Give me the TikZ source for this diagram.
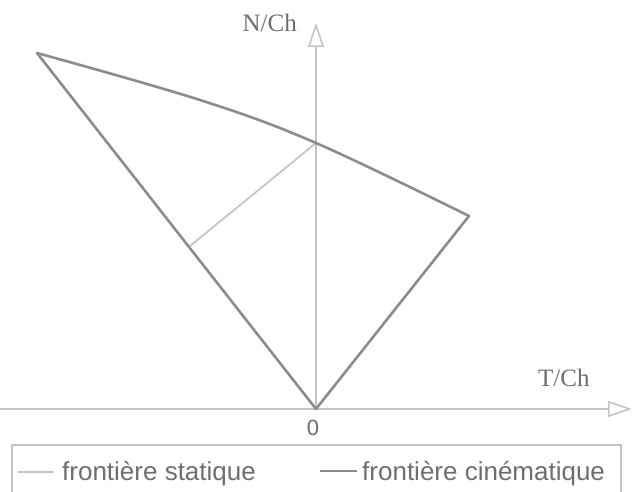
\documentclass[tikz,border=0pt]{standalone}
\usepackage{fontspec}
\setmainfont{Liberation Serif}
\newfontfamily\legfont{Liberation Sans}
\usetikzlibrary{arrows.meta}
\definecolor{darkline}{HTML}{8C8C8C}
\definecolor{lightline}{HTML}{C4C4C4}
\definecolor{txt}{HTML}{6E6E6E}
\begin{document}
\begin{tikzpicture}[x=1pt,y=-1pt,
  kin/.style={draw=darkline,line width=2.6pt,line join=round,line cap=round},
  stat/.style={draw=lightline,line width=1.7pt},
  axis/.style={draw=lightline,line width=1.8pt,-{Triangle[open,length=24pt,width=16pt,line width=1.6pt]}},
  axlabel/.style={text=txt,font=\fontsize{25}{28}\selectfont,inner sep=0pt},
  legtext/.style={text=txt,font=\legfont\fontsize{26}{30}\selectfont,inner sep=0pt}]
\useasboundingbox (0,0) rectangle (632,492);
% key points
\coordinate (O) at (316,409);
\coordinate (A) at (37,53);
\coordinate (I) at (316,143);
\coordinate (B) at (469,216);
\coordinate (C) at (190,246);
\coordinate (M) at (200,100);
\coordinate (xs) at (0,409);
\coordinate (xe) at (632,409);
\coordinate (ys) at (316,409);
\coordinate (ye) at (316,23);
% axes
\draw[axis] (xs) -- (xe);
\draw[axis] (ys) -- (ye);
% static frontier
\draw[stat] (I) -- (C);
% kinematic frontier
\draw[kin] plot[smooth,tension=0.6] coordinates {(A) (M) (I) (B)};
\draw[kin] (A) -- (O) -- (B);
% labels
\node[axlabel,anchor=base east] (nch) at (297,32) {N/Ch};
\node[axlabel,anchor=base west] (tch) at (538,386) {T/Ch};
\node[text=txt,font=\legfont\fontsize{22}{24}\selectfont,inner sep=0pt] (zero) at (313,428) {0};
% legend
\draw[draw=lightline,line width=1.3pt] (12,493) -- (12,445) -- (621,445) -- (621,493);
\coordinate (l1a) at (18,472);
\coordinate (l1b) at (53,472);
\coordinate (l2a) at (320,471);
\coordinate (l2b) at (357,471);
\draw[stat] (l1a) -- (l1b);
\draw[kin,line cap=butt] (l2a) -- (l2b);
\node[legtext,anchor=base west] (leg1) at (62,480) {frontière statique};
\node[legtext,anchor=base west] (leg2) at (362,480) {frontière cinématique};
\end{tikzpicture}
\end{document}
